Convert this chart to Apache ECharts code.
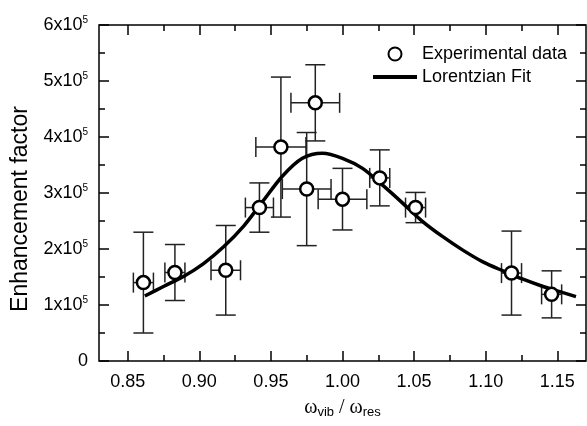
<!DOCTYPE html>
<html>
<head>
<meta charset="utf-8">
<script src="https://cdn.jsdelivr.net/npm/echarts@6/dist/echarts.min.js"></script>
<style>
  html, body { margin: 0; padding: 0; background: #fff; }
  #main { width: 587px; height: 426px; }
</style>
</head>
<body>
<div id="main"></div>
<script>
// measured points (x = w_vib / w_res, y = enhancement factor)
var expX = [0.861, 0.883, 0.9185, 0.942, 0.957, 0.981, 0.975, 1.000, 1.026, 1.051, 1.118, 1.146];
var expY = [140000, 158000, 162000, 274000, 382000, 461000, 307000, 289000, 327000, 274000, 157000, 119000];
var errX = [0.007, 0.007, 0.0103, 0.0098, 0.0175, 0.017, 0.017, 0.017, 0.007, 0.007, 0.007, 0.007];
var errY = [90000, 50000, 80000, 44000, 125000, 68000, 101000, 55000, 50000, 27000, 75000, 42000];

// Lorentzian fit
var fitX = [0.862, 0.875, 0.889, 0.903, 0.917, 0.931, 0.944, 0.958, 0.972, 0.986, 1.000, 1.014, 1.028, 1.042, 1.056, 1.070, 1.084, 1.098, 1.112, 1.126, 1.140, 1.154, 1.163];
var fitY = [116000, 133000, 151000, 174000, 204000, 241000, 284000, 330000, 362000, 371000, 362000, 344000, 314000, 282000, 249000, 222000, 198000, 177000, 161000, 146000, 133000, 122000, 115000];

var xMajor = [0.85, 0.90, 0.95, 1.00, 1.05, 1.10, 1.15];
var xMinor = [0.875, 0.925, 0.975, 1.025, 1.075, 1.125];

var font = 'Liberation Sans, Arial, sans-serif';

function xAxisDef(pos, values, len, labels) {
    return {
        type: 'value', position: pos, min: 0.83, max: 1.17,
        axisLine: { show: false },
        splitLine: { show: false },
        axisTick: { show: true, inside: true, length: len, customValues: values, lineStyle: { color: '#000', width: 1.5 } },
        axisLabel: {
            show: labels, customValues: values, margin: 12,
            fontSize: 18, fontFamily: font, color: '#000',
            formatter: function (v) { return v.toFixed(2); }
        }
    };
}

function yAxisDef(pos, labels) {
    return {
        type: 'value', position: pos, min: 0, max: 600000, interval: 100000,
        axisLine: { show: false },
        splitLine: { show: false },
        axisTick: { show: true, inside: true, length: 10, lineStyle: { color: '#000', width: 1.5 } },
        minorTick: { show: true, splitNumber: 2, length: 6, lineStyle: { color: '#000', width: 1.5 } },
        axisLabel: {
            show: labels, margin: 11, fontSize: 18, fontFamily: font, color: '#000',
            formatter: function (v) {
                if (v === 0) return '0';
                return '{m|' + (v / 100000) + 'x10}{s|5}';
            },
            rich: {
                m: { fontSize: 18, fontFamily: font, color: '#000', lineHeight: 20 },
                s: { fontSize: 10, fontFamily: font, color: '#000', lineHeight: 12, verticalAlign: 'top' }
            }
        }
    };
}

var xAxes = [
    xAxisDef('bottom', xMajor, 10, true),
    xAxisDef('bottom', xMinor, 6, false),
    xAxisDef('top', xMajor, 10, false),
    xAxisDef('top', xMinor, 6, false)
];
xAxes[0].name = '{w|ω}{sub|vib}{w| / ω}{sub|res}';
xAxes[0].nameLocation = 'middle';
xAxes[0].nameGap = 36;
xAxes[0].nameTextStyle = {
    rich: {
        w: { fontSize: 20, fontFamily: 'Liberation Serif, serif', color: '#000', lineHeight: 22 },
        sub: { fontSize: 13, fontFamily: font, color: '#000', lineHeight: 14, verticalAlign: 'bottom' }
    }
};

var yAxes = [yAxisDef('left', true), yAxisDef('right', false)];
yAxes[0].name = 'Enhancement factor';
yAxes[0].nameLocation = 'middle';
yAxes[0].nameGap = 62;
yAxes[0].nameTextStyle = { fontSize: 23, fontFamily: font, color: '#000', padding: [0, 32, 0, 0] };

var expData = [], errData = [], fitData = [];
for (var i = 0; i < expX.length; i++) {
    expData.push([expX[i], expY[i]]);
    errData.push([expX[i], expY[i], errX[i], errY[i]]);
}
for (var j = 0; j < fitX.length; j++) fitData.push([fitX[j], fitY[j]]);

function renderErr(params, api) {
    var x = api.value(0), y = api.value(1), dx = api.value(2), dy = api.value(3);
    var top = api.coord([x, y + dy]), bot = api.coord([x, y - dy]);
    var lft = api.coord([x - dx, y]), rgt = api.coord([x + dx, y]);
    var cap = 10;
    var st = { stroke: '#222', lineWidth: 1.5 };
    function ln(x1, y1, x2, y2) {
        return { type: 'line', shape: { x1: x1, y1: y1, x2: x2, y2: y2 }, style: st };
    }
    return {
        type: 'group',
        children: [
            ln(top[0], top[1], bot[0], bot[1]),
            ln(top[0] - cap, top[1], top[0] + cap, top[1]),
            ln(bot[0] - cap, bot[1], bot[0] + cap, bot[1]),
            ln(lft[0], lft[1], rgt[0], rgt[1]),
            ln(lft[0], lft[1] - cap, lft[0], lft[1] + cap),
            ln(rgt[0], rgt[1] - cap, rgt[0], rgt[1] + cap)
        ]
    };
}

var chart = echarts.init(document.getElementById('main'), null, { renderer: 'canvas' });
chart.setOption({
    backgroundColor: '#fff',
    animation: false,
    grid: { left: 99, right: 1, top: 25, bottom: 65, show: true, borderColor: '#000', borderWidth: 1.5, backgroundColor: 'transparent' },
    legend: {
        orient: 'vertical', left: 366, top: 39, itemWidth: 44, itemHeight: 13, itemGap: 3,
        textStyle: { fontSize: 18, fontFamily: font, color: '#000', lineHeight: 20 },
        data: [
            'Experimental data',
            { name: 'Lorentzian Fit', itemStyle: { opacity: 0 }, lineStyle: { width: 4, color: '#000' } }
        ]
    },
    xAxis: xAxes,
    yAxis: yAxes,
    series: [
        {
            name: 'errors', type: 'custom', renderItem: renderErr, data: errData,
            encode: { x: 0, y: 1 }, z: 1, silent: true
        },
        {
            name: 'Lorentzian Fit', type: 'line', data: fitData, smooth: 0.3,
            symbol: 'none', showSymbol: false, z: 2,
            lineStyle: { color: '#000', width: 3.5 }, itemStyle: { color: '#000' }
        },
        {
            name: 'Experimental data', type: 'scatter', data: expData, symbol: 'circle', symbolSize: 13, z: 3,
            itemStyle: { color: '#fff', borderColor: '#000', borderWidth: 2.5, opacity: 1 }
        }
    ]
});
</script>
</body>
</html>
